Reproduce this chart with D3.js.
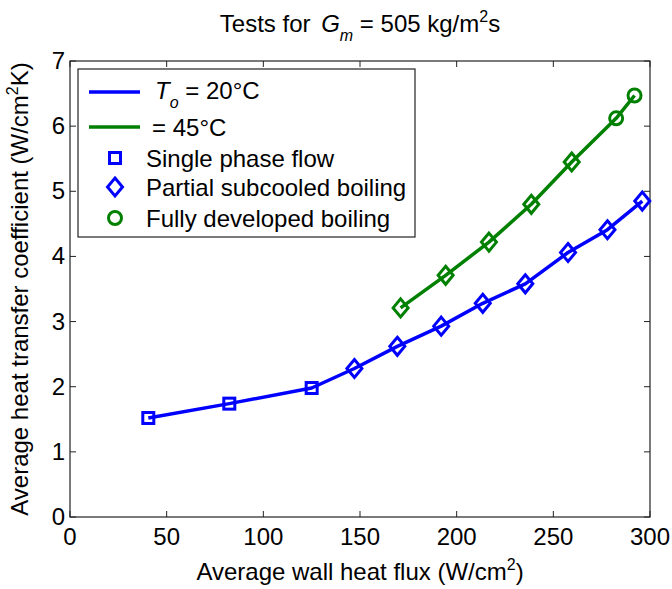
<!DOCTYPE html>
<html>
<head>
<meta charset="utf-8">
<script src="https://cdn.jsdelivr.net/npm/d3@7"></script>
<style>
  html, body { margin: 0; padding: 0; background: #fff; }
  svg text { font-family: "Liberation Sans", Arial, Helvetica, sans-serif; fill: #000; }
</style>
</head>
<body>
<svg id="chart" width="672" height="589"></svg>
<script>
// Heat transfer coefficient vs. wall heat flux, two inlet temperatures
const xTicks = [0, 50, 100, 150, 200, 250, 300];
const yTicks = [0, 1, 2, 3, 4, 5, 6, 7];

const flux20 = [40.5, 82.4, 125, 147.1, 169.3, 192, 213.5, 235.5, 257.6, 278, 296];
const htc20  = [1.52, 1.74, 1.98, 2.28, 2.62, 2.93, 3.28, 3.58, 4.06, 4.41, 4.85];
const regime20 = ["single", "single", "single", "partial", "partial", "partial",
                  "partial", "partial", "partial", "partial", "partial"];

const flux45 = [171, 194.3, 216.7, 238.6, 259.5, 282.5, 292];
const htc45  = [3.21, 3.71, 4.22, 4.80, 5.45, 6.12, 6.47];
const regime45 = ["partial", "partial", "partial", "partial", "partial", "full", "full"];

const legendLabels = ["Single phase flow", "Partial subcooled boiling", "Fully developed boiling"];

const BLUE = "#0000ff", GREEN = "#008000";
const FS = 24;

const svg = d3.select("#chart");
const plotL = 70, plotR = 650, plotT = 61, plotB = 517;

const x = d3.scaleLinear().domain([0, 300]).range([plotL, plotR]);
const y = d3.scaleLinear().domain([0, 7]).range([plotB, plotT]);

// axes box with inward ticks on all four sides
const tickLen = 6;
const axisG = svg.append("g");
axisG.append("rect")
  .attr("x", plotL).attr("y", plotT)
  .attr("width", plotR - plotL).attr("height", plotB - plotT)
  .attr("fill", "none").attr("stroke", "#222").attr("stroke-width", 1.2);

xTicks.forEach(t => {
  axisG.append("line").attr("x1", x(t)).attr("x2", x(t))
    .attr("y1", plotB).attr("y2", plotB - tickLen).attr("stroke", "#222");
  axisG.append("line").attr("x1", x(t)).attr("x2", x(t))
    .attr("y1", plotT).attr("y2", plotT + tickLen).attr("stroke", "#222");
  axisG.append("text").attr("x", x(t)).attr("y", plotB + 28)
    .attr("text-anchor", "middle").attr("font-size", FS).text(t);
});
yTicks.forEach(t => {
  axisG.append("line").attr("x1", plotL).attr("x2", plotL + tickLen)
    .attr("y1", y(t)).attr("y2", y(t)).attr("stroke", "#222");
  axisG.append("line").attr("x1", plotR).attr("x2", plotR - tickLen)
    .attr("y1", y(t)).attr("y2", y(t)).attr("stroke", "#222");
  axisG.append("text").attr("x", plotL - 5).attr("y", y(t) + 8)
    .attr("text-anchor", "end").attr("font-size", FS).text(t);
});

// axis titles
const xl = svg.append("text").attr("x", (plotL + plotR) / 2).attr("y", 580)
  .attr("text-anchor", "middle").attr("font-size", FS);
xl.append("tspan").text("Average wall heat flux (W/cm");
xl.append("tspan").attr("dy", -10).attr("font-size", 16).text("2");
xl.append("tspan").attr("dy", 10).text(")");

const yl = svg.append("text")
  .attr("transform", `translate(28,${(plotT + plotB) / 2}) rotate(-90)`)
  .attr("text-anchor", "middle").attr("font-size", FS);
yl.append("tspan").text("Average heat transfer coefficient (W/cm");
yl.append("tspan").attr("dy", -10).attr("font-size", 16).text("2");
yl.append("tspan").attr("dy", 10).text("K)");

// title
const title = svg.append("text").attr("x", 360).attr("y", 32)
  .attr("text-anchor", "middle").attr("font-size", FS);
title.append("tspan").text("Tests for ");
title.append("tspan").attr("font-style", "italic").attr("dx", 4).text("G");
title.append("tspan").attr("dy", 9).attr("font-size", 16).attr("font-style", "italic").text("m");
title.append("tspan").attr("dy", -9).text(" = 505 kg/m");
title.append("tspan").attr("dy", -10).attr("font-size", 16).text("2");
title.append("tspan").attr("dy", 10).text("s");

// marker shapes
function marker(g, type, cx, cy, color) {
  if (type === "single") {
    g.append("rect").attr("x", cx - 5.5).attr("y", cy - 5.5)
      .attr("width", 11).attr("height", 11)
      .attr("fill", "none").attr("stroke", color).attr("stroke-width", 3);
  } else if (type === "partial") {
    g.append("path")
      .attr("d", `M${cx},${cy - 9}L${cx + 7.5},${cy}L${cx},${cy + 9}L${cx - 7.5},${cy}Z`)
      .attr("fill", "none").attr("stroke", color).attr("stroke-width", 3);
  } else {
    g.append("circle").attr("cx", cx).attr("cy", cy).attr("r", 6.5)
      .attr("fill", "none").attr("stroke", color).attr("stroke-width", 3);
  }
}

const line = d3.line().x(d => x(d[0])).y(d => y(d[1]));

function series(xs, ys, regimes, color) {
  const pts = xs.map((v, i) => [v, ys[i]]);
  const g = svg.append("g");
  g.append("path").datum(pts).attr("d", line)
    .attr("fill", "none").attr("stroke", color).attr("stroke-width", 3.5)
    .attr("stroke-linejoin", "round");
  pts.forEach((p, i) => marker(g, regimes[i], x(p[0]), y(p[1]), color));
}
series(flux20, htc20, regime20, BLUE);
series(flux45, htc45, regime45, GREEN);

// legend
const lg = svg.append("g");
lg.append("rect").attr("x", 78).attr("y", 69).attr("width", 337).attr("height", 168)
  .attr("fill", "#fff").attr("stroke", "#222").attr("stroke-width", 1.2);
lg.append("line").attr("x1", 89).attr("x2", 140).attr("y1", 92).attr("y2", 92)
  .attr("stroke", BLUE).attr("stroke-width", 3.5);
lg.append("line").attr("x1", 89).attr("x2", 140).attr("y1", 127).attr("y2", 127)
  .attr("stroke", GREEN).attr("stroke-width", 3.5);
const t1 = lg.append("text").attr("x", 155).attr("y", 99).attr("font-size", FS);
t1.append("tspan").attr("font-style", "italic").text("T");
t1.append("tspan").attr("dy", 9).attr("font-size", 16).attr("font-style", "italic").text("o");
t1.append("tspan").attr("dy", -9).text(" = 20°C");
lg.append("text").attr("x", 152).attr("y", 136).attr("font-size", FS).text("= 45°C");

const legendTypes = ["single", "partial", "full"];
const legendColors = [BLUE, BLUE, GREEN];
const legendY = [158, 187, 218];
legendLabels.forEach((lab, i) => {
  marker(lg, legendTypes[i], 115, legendY[i], legendColors[i]);
  lg.append("text").attr("x", 146).attr("y", legendY[i] + 8.5).attr("font-size", FS).text(lab);
});
</script>
</body>
</html>
